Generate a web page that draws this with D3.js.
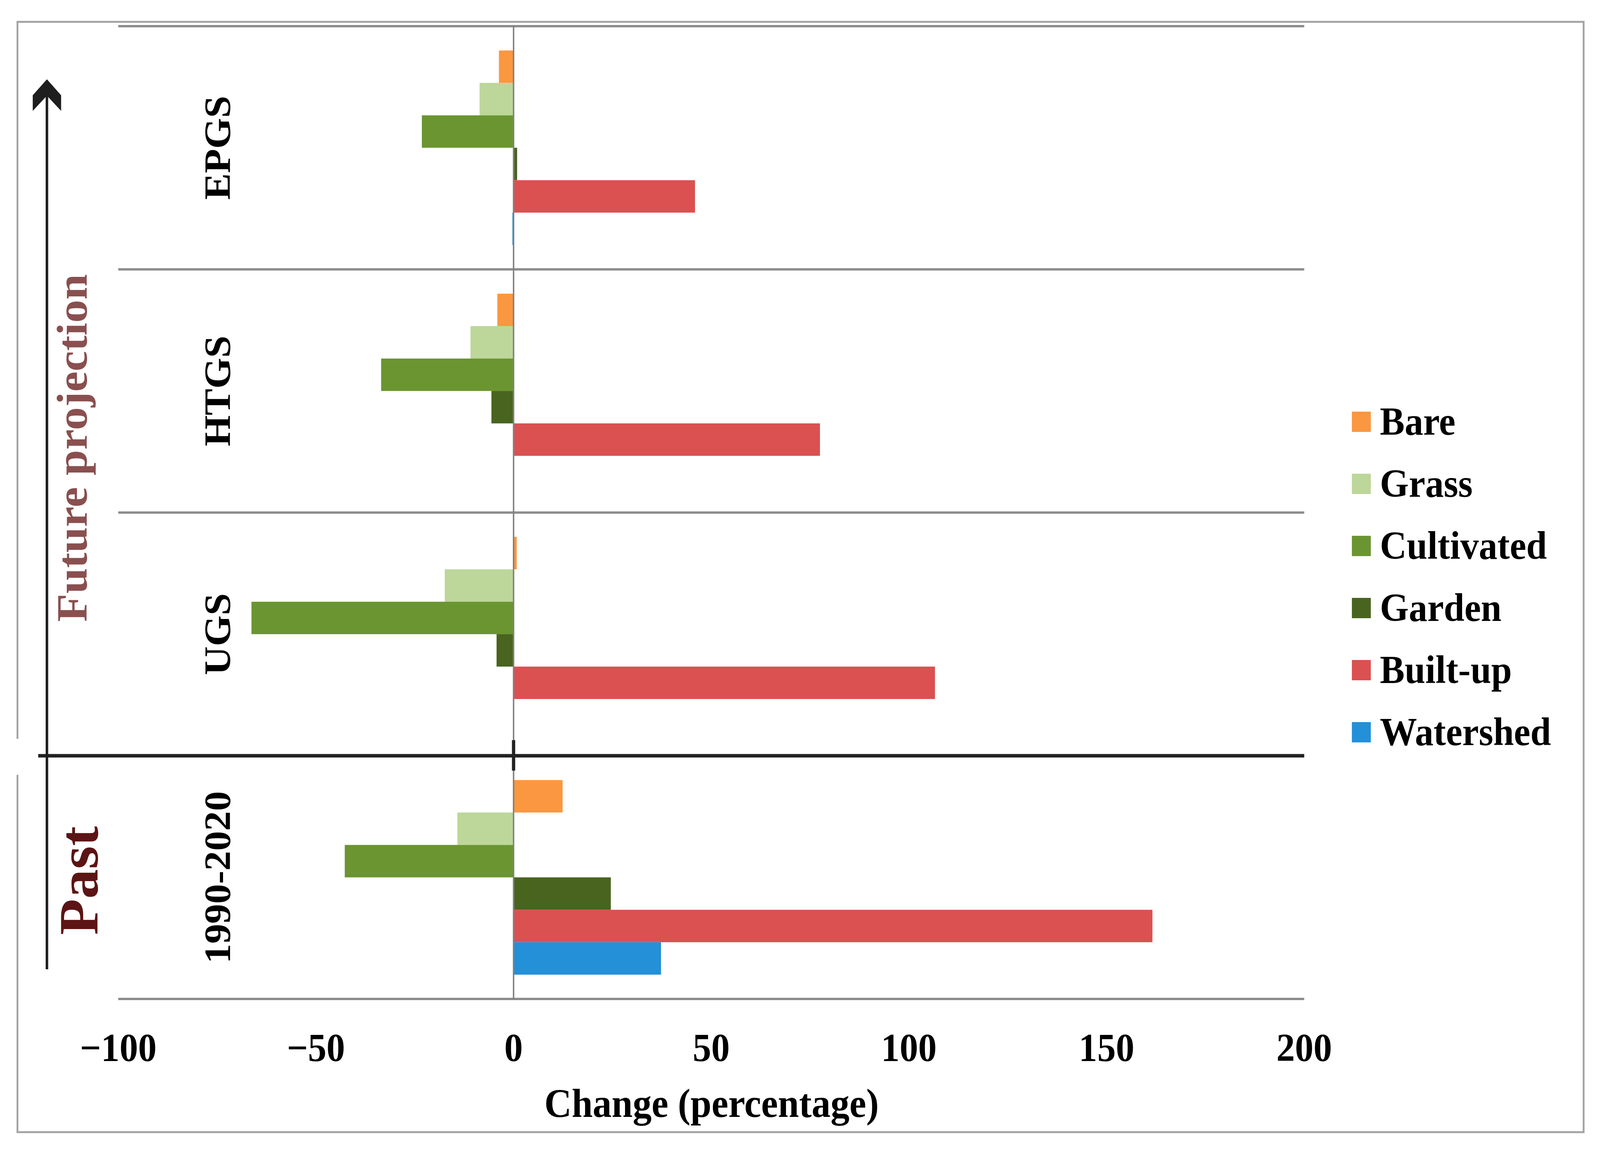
<!DOCTYPE html>
<html>
<head>
<meta charset="utf-8">
<script src="https://cdn.jsdelivr.net/npm/d3@7"></script>
<style>
	html, body { margin: 0; padding: 0; background: #fff; overflow: hidden; }
	svg { display: block; width: 100vw; height: 100vh; font-family: "Liberation Serif", "Times New Roman", serif; font-weight: bold; }
</style>
</head>
<body>
<div id="chart"></div>
<script>
//	scenarios, top to bottom
const scenarios = ['EPGS', 'HTGS', 'UGS', '1990-2020'];
const landCovers = ['Bare', 'Grass', 'Cultivated', 'Garden', 'Built-up', 'Watershed'];
const coverColors = ['#fb9740', '#bcd799', '#6a9531', '#48641f', '#db5050', '#2390d8'];
//	change (%) per land cover, one value per scenario
const bareValues = [-3.7, -4.1, 0.8, 12.4];
const grassValues = [-8.6, -10.9, -17.4, -14.2];
const cultivatedValues = [-23.2, -33.5, -66.3, -42.7];
const gardenValues = [0.9, -5.6, -4.3, 24.6];
const builtUpValues = [45.9, 77.5, 106.6, 161.6];
const watershedValues = [-0.3, 0, 0, 37.3];
const xTicks = [-100, -50, 0, 50, 100, 150, 200];

const W = 4398, H = 2955;
const seriesValues = [bareValues, grassValues, cultivatedValues, gardenValues, builtUpValues, watershedValues];

//	one record per bar
const bars = [];
scenarios.forEach((s, i) => {
	landCovers.forEach((c, j) => {
		bars.push({ scenario: s, cover: c, value: seriesValues[j][i] });
	});
});

//	viewBox so the drawing fits whatever the viewport really is
const svg = d3.select('#chart')
	.append('svg')
	.attr('viewBox', '0 0 ' + W + ' ' + H)
	.attr('preserveAspectRatio', 'none');

const x = d3.scaleLinear().domain([-100, 200]).range([325, 3585]);
const y = d3.scaleBand().domain(scenarios).range([67, 2558]).padding(0);
const yInner = d3.scaleBand().domain(landCovers).range([0, y.bandwidth()])
	.paddingInner(0).paddingOuter(0.75);
const color = d3.scaleOrdinal().domain(landCovers).range(coverColors);

//	outer frame, with a gap on the left where the black line passes
svg.append('path')
	.attr('d', 'M48,1892 V56 H4353 V2899 H48 V1984')
	.attr('fill', 'none')
	.attr('stroke', '#a3a3a3')
	.attr('stroke-width', 5);

//	gray separators between scenarios (the past/future one is black)
const sepY = scenarios.map(s => y(s)).concat([y.range()[1]]);
svg.selectAll('line.grid')
	.data(sepY.filter((d, i) => i !== 3))
	.enter()
	.append('line')
	.attr('class', 'grid')
	.attr('x1', x(-100))
	.attr('x2', x(200))
	.attr('y1', d => d)
	.attr('y2', d => d)
	.attr('stroke', '#8c8c8c')
	.attr('stroke-width', 6);

//	bars
svg.selectAll('rect.bar')
	.data(bars)
	.enter()
	.append('rect')
	.attr('class', 'bar')
	.attr('x', d => x(Math.min(0, d.value)))
	.attr('y', d => y(d.scenario) + yInner(d.cover))
	.attr('width', d => Math.abs(x(d.value) - x(0)))
	.attr('height', yInner.bandwidth())
	.attr('fill', d => color(d.cover));

//	zero line
svg.append('line')
	.attr('x1', x(0)).attr('x2', x(0))
	.attr('y1', y.range()[0]).attr('y2', y.range()[1])
	.attr('stroke', '#808080')
	.attr('stroke-width', 4);

//	black line between past and projection
const pastTop = y(scenarios[3]);
svg.append('line')
	.attr('x1', 105).attr('x2', x(200))
	.attr('y1', pastTop).attr('y2', pastTop)
	.attr('stroke', '#222')
	.attr('stroke-width', 9);
svg.append('line')
	.attr('x1', x(0)).attr('x2', x(0))
	.attr('y1', pastTop - 40).attr('y2', pastTop + 38)
	.attr('stroke', '#222')
	.attr('stroke-width', 9);

//	time arrow
svg.append('line')
	.attr('x1', 129).attr('x2', 129)
	.attr('y1', 240).attr('y2', 2482)
	.attr('stroke', '#1e1e1e')
	.attr('stroke-width', 7);
svg.append('polygon')
	.attr('points', '129,203 168,244 168,284 129,245 90,284 90,244')
	.attr('fill', '#1e1e1e');

//	scenario labels
svg.selectAll('text.cat')
	.data(scenarios)
	.enter()
	.append('text')
	.attr('class', 'cat')
	.attr('transform', d => 'translate(632,' + (y(d) + y.bandwidth() / 2) + ') rotate(-90)')
	.attr('text-anchor', 'middle')
	.attr('font-size', 102)
	.attr('fill', '#000')
	.text(d => d);

svg.append('text')
	.attr('transform', 'translate(238,1147) rotate(-90)')
	.attr('text-anchor', 'middle')
	.attr('font-size', 118)
	.attr('fill', '#8a4f4f')
	.text('Future projection');

svg.append('text')
	.attr('transform', 'translate(268,2255) rotate(-90)')
	.attr('text-anchor', 'middle')
	.attr('font-size', 152)
	.attr('fill', '#5c1414')
	.text('Past');

//	x tick labels
svg.selectAll('text.tick')
	.data(xTicks)
	.enter()
	.append('text')
	.attr('class', 'tick')
	.attr('x', d => x(d))
	.attr('y', 2717)
	.attr('text-anchor', 'middle')
	.attr('font-size', 102)
	.attr('fill', '#000')
	.text(d => d < 0 ? '\u2212' + Math.abs(d) : d);

svg.append('text')
	.attr('x', 1956)
	.attr('y', 2860)
	.attr('text-anchor', 'middle')
	.attr('font-size', 104)
	.attr('fill', '#000')
	.text('Change (percentage)');

//	legend
const legend = svg.selectAll('g.legend')
	.data(landCovers)
	.enter()
	.append('g')
	.attr('class', 'legend')
	.attr('transform', (d, i) => 'translate(3716,' + (1054 + i * 159) + ')');
legend.append('rect')
	.attr('width', 52)
	.attr('height', 52)
	.attr('fill', d => color(d));
legend.append('text')
	.attr('x', 77)
	.attr('y', 59)
	.attr('font-size', 102)
	.attr('fill', '#000')
	.text(d => d);
</script>
</body>
</html>
